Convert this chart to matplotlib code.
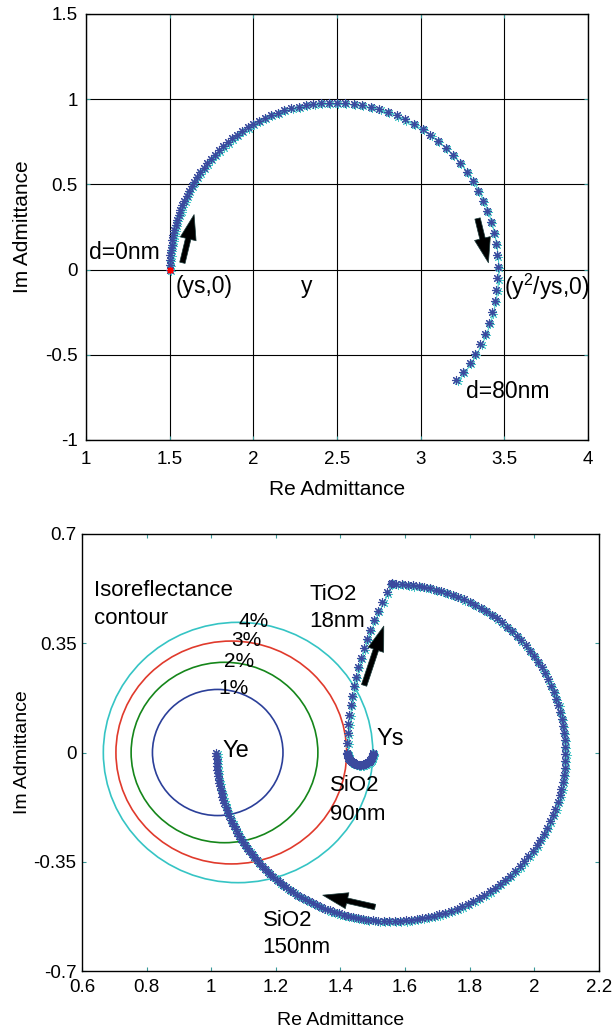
import matplotlib
matplotlib.use("Agg")
import matplotlib.pyplot as plt
from matplotlib import transforms
from matplotlib.patches import Circle
import numpy as np

plt.rcParams['font.family'] = ['Liberation Sans', 'DejaVu Sans']
plt.rcParams['mathtext.default'] = 'regular'

# ---- top panel: admittance locus of one layer, d = 0..80 nm (1 nm steps)
top_re = [1.500, 1.500, 1.502, 1.504, 1.507, 1.511, 1.516, 1.522, 1.528, 1.536,
          1.544, 1.554, 1.564, 1.575, 1.588, 1.601, 1.615, 1.631, 1.647, 1.665,
          1.683, 1.703, 1.723, 1.746, 1.769, 1.793, 1.819, 1.846, 1.873, 1.903,
          1.934, 1.966, 1.999, 2.034, 2.069, 2.107, 2.145, 2.185, 2.227, 2.270,
          2.314, 2.359, 2.405, 2.452, 2.501, 2.549, 2.600, 2.650, 2.702, 2.753,
          2.805, 2.857, 2.908, 2.960, 3.011, 3.058, 3.105, 3.150, 3.195, 3.236,
          3.275, 3.311, 3.343, 3.373, 3.398, 3.419, 3.436, 3.448, 3.457, 3.460,
          3.459, 3.453, 3.442, 3.427, 3.408, 3.385, 3.357, 3.326, 3.292, 3.254,
          3.214]
top_im = [0.000, 0.029, 0.059, 0.088, 0.117, 0.146, 0.175, 0.204, 0.233, 0.262,
          0.291, 0.320, 0.348, 0.377, 0.405, 0.433, 0.461, 0.489, 0.516, 0.544,
          0.570, 0.597, 0.623, 0.649, 0.674, 0.699, 0.723, 0.747, 0.770, 0.792,
          0.813, 0.834, 0.854, 0.872, 0.890, 0.906, 0.921, 0.935, 0.947, 0.957,
          0.966, 0.973, 0.977, 0.980, 0.980, 0.978, 0.973, 0.965, 0.955, 0.941,
          0.925, 0.905, 0.881, 0.855, 0.824, 0.791, 0.755, 0.715, 0.671, 0.624,
          0.573, 0.520, 0.464, 0.405, 0.344, 0.281, 0.216, 0.150, 0.083, 0.016,
          -0.052, -0.119, -0.186, -0.251, -0.315, -0.377, -0.437, -0.494, -0.549, -0.601,
          -0.649]
top_xticks = [1, 1.5, 2, 2.5, 3, 3.5, 4]
top_xticklabels = ['1', '1.5', '2', '2.5', '3', '3.5', '4']
top_yticks = [-1, -0.5, 0, 0.5, 1, 1.5]
top_yticklabels = ['-1', '-0.5', '0', '0.5', '1', '1.5']

# ---- bottom panel: AR stack, each layer traces an arc of an admittance circle
# points are given as angles (deg) on the circle of each layer
sio2_90_center, sio2_90_radius = 1.4605, 0.0395
sio2_90_angles = [0, -6, -12, -18, -24, -30, -36, -42, -48, -54, -60, -66, -72, -78,
                  -84, -90, -96, -102, -108, -114, -120, -126, -132, -138, -144,
                  -150, -156, -162, -168, -174, -180]
tio2_center, tio2_radius = 2.548, 1.127
tio2_angles = [180.0, 178.45, 176.90, 175.35, 173.80, 172.24, 170.68, 169.12, 167.54,
               165.96, 164.38, 162.78, 161.17, 159.55, 157.92, 156.28, 154.61,
               152.94, 151.25]
sio2_150_center, sio2_150_radius = 1.556, 0.540
sio2_150_angles = [90.00, 88.18, 86.35, 84.53, 82.70,
                   80.88, 78.96, 77.04, 75.11, 73.19,
                   71.27, 69.24, 67.22, 65.19, 63.17,
                   61.14, 59.02, 56.90, 54.78, 52.66,
                   50.54, 48.33, 46.11, 43.90, 41.68,
                   39.47, 37.18, 34.89, 32.61, 30.32,
                   28.03, 25.68, 23.33, 20.99, 18.64,
                   16.29, 13.91, 11.52, 9.14, 6.76,
                   4.37, 1.98, -0.42, -2.81, -5.20,
                   -7.59, -9.97, -12.34, -14.72, -17.10,
                   -19.47, -21.80, -24.14, -26.47, -28.81,
                   -31.14, -33.41, -35.68, -37.96, -40.23,
                   -42.50, -44.69, -46.88, -49.06, -51.25,
                   -53.44, -55.54, -57.63, -59.73, -61.82,
                   -63.92, -65.92, -67.91, -69.91, -71.90,
                   -73.90, -75.80, -77.70, -79.60, -81.50,
                   -83.40, -85.19, -86.99, -88.78, -90.58,
                   -92.37, -94.08, -95.79, -97.49, -99.20,
                   -100.91, -102.52, -104.14, -105.75, -107.37,
                   -108.98, -110.51, -112.05, -113.58, -115.12,
                   -116.65, -118.12, -119.59, -121.07, -122.54,
                   -124.01, -125.40, -126.79, -128.19, -129.58,
                   -130.97, -132.31, -133.65, -134.99, -136.33,
                   -137.67, -138.97, -140.27, -141.56, -142.86,
                   -144.16, -145.41, -146.66, -147.92, -149.17,
                   -150.42, -151.64, -152.86, -154.09, -155.31,
                   -156.53, -157.73, -158.92, -160.12, -161.31,
                   -162.51, -163.69, -164.86, -166.04, -167.21,
                   -168.39, -169.55, -170.72, -171.88, -173.05,
                   -174.21, -175.37, -176.53, -177.68, -178.84,
                   -180.00]

# isoreflectance contours
iso_labels = ['1%', '2%', '3%', '4%']
iso_centers = [1.020, 1.041, 1.062, 1.083]
iso_radii = [0.202, 0.289, 0.357, 0.417]
iso_colors = ['#2b3f99', '#15861a', '#e03a2c', '#35c4c4']

bot_xticks = [0.6, 0.8, 1, 1.2, 1.4, 1.6, 1.8, 2, 2.2]
bot_xticklabels = ['0.6', '0.8', '1', '1.2', '1.4', '1.6', '1.8', '2', '2.2']
bot_yticks = [-0.7, -0.35, 0, 0.35, 0.7]
bot_yticklabels = ['-0.7', '-0.35', '0', '0.35', '0.7']

STAR = (8, 2, 0)
BLUE = '#3b4a9e'
CYAN = '#48c8c8'


def arc_points(center, radius, angles):
    a = np.radians(angles)
    return center + radius * np.cos(a), radius * np.sin(a)


def plot_locus(ax, x, y):
    # cyan shadow copy slightly shifted, then the blue stars on top
    shadow = transforms.offset_copy(ax.transData, fig=fig, x=1.2, y=-1.2, units='dots')
    ax.plot(x, y, color=CYAN, lw=0.8, marker=STAR, ms=6.5, mew=0.7, transform=shadow, zorder=3)
    ax.plot(x, y, ls='none', marker=STAR, ms=6.5, mew=0.8, color=BLUE, zorder=4)


def fat_arrow(ax, tail, tip):
    ax.annotate('', xy=tip, xytext=tail,
                arrowprops=dict(arrowstyle='simple,head_length=1.0,head_width=0.65,tail_width=0.22',
                                mutation_scale=18, fc='black', ec='#1a3a3a', lw=0.5,
                                shrinkA=0, shrinkB=0), zorder=5)


def style_axes(ax, xpad, ypad):
    ax.tick_params(direction='in', length=3, width=0.8, color='#3a9a9a',
                   top=True, right=True, labelsize=13.5)
    ax.tick_params(axis='x', pad=xpad)
    ax.tick_params(axis='y', pad=ypad)
    for s in ax.spines.values():
        s.set_linewidth(1.0)


fig = plt.figure(figsize=(6.15, 10.35), dpi=100)

# ---------------- top
ax1 = fig.add_axes([86 / 615, 1 - 440 / 1035, 502 / 615, 426 / 1035])
ax1.set_xlim(1, 4)
ax1.set_ylim(-1, 1.5)
ax1.set_xticks(top_xticks)
ax1.set_xticklabels(top_xticklabels)
ax1.set_yticks(top_yticks)
ax1.set_yticklabels(top_yticklabels)
ax1.grid(True, color='black', lw=0.8)
ax1.set_axisbelow(True)
style_axes(ax1, 8, 6)

plot_locus(ax1, top_re, top_im)
ax1.plot(top_re[0], top_im[0], ls='none', marker=STAR, ms=5, mew=0.9, color='red', zorder=5)

ax1.text(1.02, 0.03, 'd=0nm', fontsize=16.5, va='bottom')
ax1.text(1.535, -0.03, '(ys,0)', fontsize=16.5, va='top')
ax1.text(2.285, -0.03, 'y', fontsize=16.5, va='top')
ax1.text(3.50, -0.01, '(y$^2$/ys,0)', fontsize=16.5, va='top')
ax1.text(3.27, -0.645, 'd=80nm', fontsize=16.5, va='top')
fat_arrow(ax1, (1.576, 0.04), (1.646, 0.323))
fat_arrow(ax1, (3.34, 0.30), (3.405, 0.04))

ax1.set_xlabel('Re Admittance', fontsize=15)
ax1.set_ylabel('Im Admittance', fontsize=15)
ax1.xaxis.set_label_coords(0.5, -0.094)
ax1.yaxis.set_label_coords(-0.108, 0.5)

# ---------------- bottom
ax2 = fig.add_axes([82 / 615, 1 - 971 / 1035, 517 / 615, 437 / 1035])
ax2.set_xlim(0.6, 2.2)
ax2.set_ylim(-0.7, 0.7)
ax2.set_xticks(bot_xticks)
ax2.set_xticklabels(bot_xticklabels)
ax2.set_yticks(bot_yticks)
ax2.set_yticklabels(bot_yticklabels)
style_axes(ax2, 6, 4)

for c, r, col in zip(iso_centers, iso_radii, iso_colors):
    ax2.add_patch(Circle((c, 0), r, fill=False, ec=col, lw=1.2, zorder=2))

for center, radius, angles in [(sio2_90_center, sio2_90_radius, sio2_90_angles),
                               (tio2_center, tio2_radius, tio2_angles),
                               (sio2_150_center, sio2_150_radius, sio2_150_angles)]:
    bx, by = arc_points(center, radius, angles)
    plot_locus(ax2, bx, by)

ax2.text(0.638, 0.501, 'Isoreflectance', fontsize=16, va='baseline')
ax2.text(0.638, 0.411, 'contour', fontsize=16, va='baseline')
ax2.text(1.303, 0.490, 'TiO2', fontsize=16, va='baseline')
ax2.text(1.303, 0.403, '18nm', fontsize=16, va='baseline')
for lab, (lx, ly) in zip(iso_labels, [(1.023, 0.187), (1.041, 0.274), (1.062, 0.340), (1.084, 0.403)]):
    ax2.text(lx, ly, lab, fontsize=15, va='baseline')
ax2.text(1.035, -0.015, 'Ye', fontsize=17, va='baseline')
ax2.text(1.512, 0.023, 'Ys', fontsize=17, va='baseline')
ax2.text(1.367, -0.124, 'SiO2', fontsize=16, va='baseline')
ax2.text(1.367, -0.217, '90nm', fontsize=16, va='baseline')
ax2.text(1.159, -0.555, 'SiO2', fontsize=16, va='baseline')
ax2.text(1.159, -0.642, '150nm', fontsize=16, va='baseline')
fat_arrow(ax2, (1.473, 0.215), (1.534, 0.405))
fat_arrow(ax2, (1.507, -0.495), (1.345, -0.457))

ax2.set_xlabel('Re Admittance', fontsize=14)
ax2.set_ylabel('Im Admittance', fontsize=14)
ax2.xaxis.set_label_coords(0.5, -0.094)
ax2.yaxis.set_label_coords(-0.098, 0.5)

fig.savefig('out.png', dpi=100)
